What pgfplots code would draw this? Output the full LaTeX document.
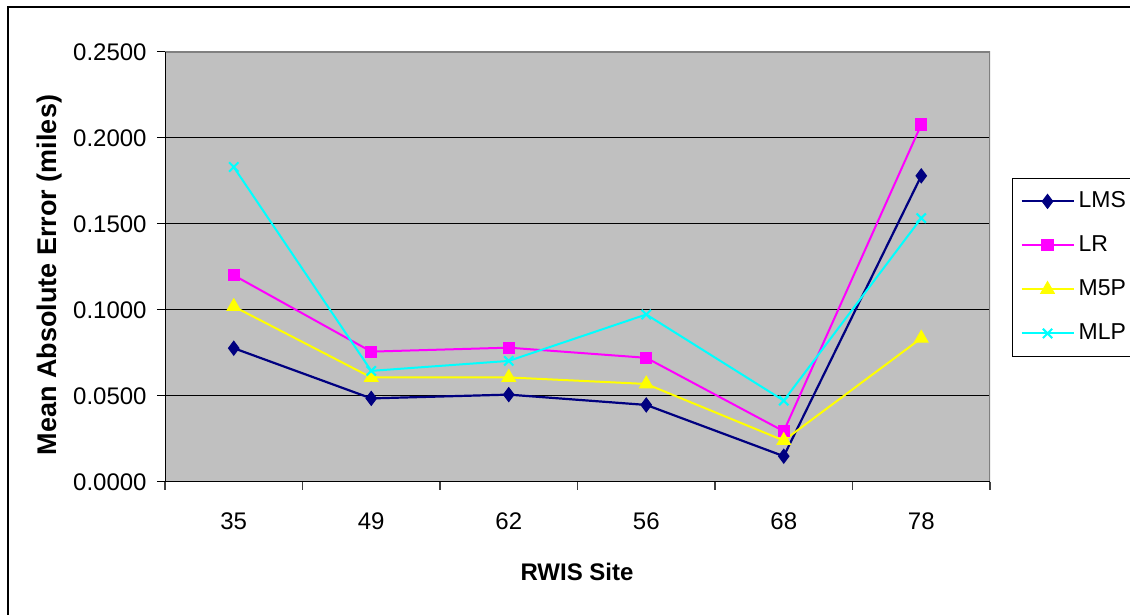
\documentclass[border=0pt]{standalone}
\usepackage{fontspec}
\setmainfont{Liberation Sans}
\usepackage{pgfplots}
\pgfplotsset{compat=1.18}

\definecolor{lmscol}{RGB}{0,0,128}
\definecolor{lrcol}{RGB}{255,0,255}
\definecolor{mfivecol}{RGB}{255,255,0}
\definecolor{mlpcol}{RGB}{0,255,255}
\definecolor{plotbg}{RGB}{192,192,192}
\definecolor{plotedge}{RGB}{128,128,128}
\definecolor{baseline}{RGB}{64,64,64}

\begin{document}
\begin{tikzpicture}
\useasboundingbox (0pt,0pt) rectangle (565pt,307.5pt);
% chart frame
\draw[line width=0.7pt] (4pt,-5pt) -- (4pt,304pt) -- (570pt,304pt);
\begin{axis}[
  at={(82.5pt,66.5pt)}, anchor=south west,
  scale only axis, width=412.5pt, height=215pt,
  xmin=-0.5, xmax=5.5, ymin=0, ymax=0.25,
  xtick={0,1,2,3,4,5},
  xticklabels={35,49,62,56,68,78},
  minor xtick={-0.5,0.5,1.5,2.5,3.5,4.5,5.5},
  ytick={0,0.05,0.1,0.15,0.2,0.25},
  xtick pos=bottom, ytick pos=left,
  ymajorgrids,
  major grid style={black, line width=0.5pt},
  tick align=outside,
  major tick length=4pt, minor tick length=4pt,
  xtick style={draw=none},
  minor x tick style={draw=baseline, line width=0.6pt},
  ytick style={draw=black, line width=0.5pt},
  axis background/.style={fill=plotbg},
  axis line style={draw=none},
  tick label style={font=\fontsize{12}{14}\selectfont},
  yticklabel style={/pgf/number format/.cd, fixed, fixed zerofill, precision=4,
    assume math mode=true, /tikz/.cd, inner sep=0pt, xshift=-5pt},
  xticklabel style={inner sep=0pt, yshift=-11pt},
  xlabel={RWIS Site},
  ylabel={Mean Absolute Error (miles)},
  xlabel style={font=\bfseries\fontsize{12}{14}\selectfont,
    at={(axis description cs:0.4994,-0.2093)}, anchor=center},
  ylabel style={font=\bfseries\fontsize{13.5}{16}\selectfont,
    at={(axis description cs:-0.1394,0.4814)}, anchor=center},
  legend style={at={(axis description cs:1.0267,0.707)}, anchor=north west,
    draw=black, fill=white,
    inner xsep=4pt, inner ysep=0.5pt,
    font=\fontsize{11.5}{13}\selectfont,
    nodes={inner sep=0pt, minimum height=22pt},
    column sep=2pt},
  legend cell align=left,
  legend image code/.code={%
    \draw[mark repeat=2, mark phase=2] plot coordinates {(0pt,0pt) (13pt,0pt) (26pt,0pt)};},
]
\addplot[lmscol, line width=1.1pt, mark=diamond*, mark size=3.5pt,
  mark options={fill=lmscol, draw=lmscol, line width=0.5pt}] coordinates {
  (0,0.0778) (1,0.0486) (2,0.0508) (3,0.0448) (4,0.0150) (5,0.1780)};
\addlegendentry{LMS}
\addplot[lrcol, line width=1pt, mark=square*, mark size=2.8pt,
  mark options={fill=lrcol, draw=lrcol, line width=0.5pt}] coordinates {
  (0,0.1202) (1,0.0758) (2,0.0781) (3,0.0722) (4,0.0295) (5,0.2078)};
\addlegendentry{LR}
\addplot[mfivecol, line width=1pt, mark=triangle*, mark size=3.9pt,
  mark options={fill=mfivecol, draw=mfivecol, line width=0.5pt}] coordinates {
  (0,0.1020) (1,0.0608) (2,0.0608) (3,0.0570) (4,0.0241) (5,0.0836)};
\addlegendentry{M5P}
\addplot[mlpcol, line width=1pt, mark=x, mark size=3.3pt,
  mark options={draw=mlpcol, line width=1pt}] coordinates {
  (0,0.1831) (1,0.0646) (2,0.0704) (3,0.0974) (4,0.0473) (5,0.1534)};
\addlegendentry{MLP}
% plot area edges
\draw[plotedge, line width=1pt] (rel axis cs:0,1) -- (rel axis cs:1,1) -- (rel axis cs:1,0);
\draw[baseline, line width=1pt] (rel axis cs:0,0) -- (rel axis cs:1,0);
\draw[black, line width=0.5pt] (rel axis cs:0,0) -- (rel axis cs:0,1);
\end{axis}
\end{tikzpicture}
\end{document}
